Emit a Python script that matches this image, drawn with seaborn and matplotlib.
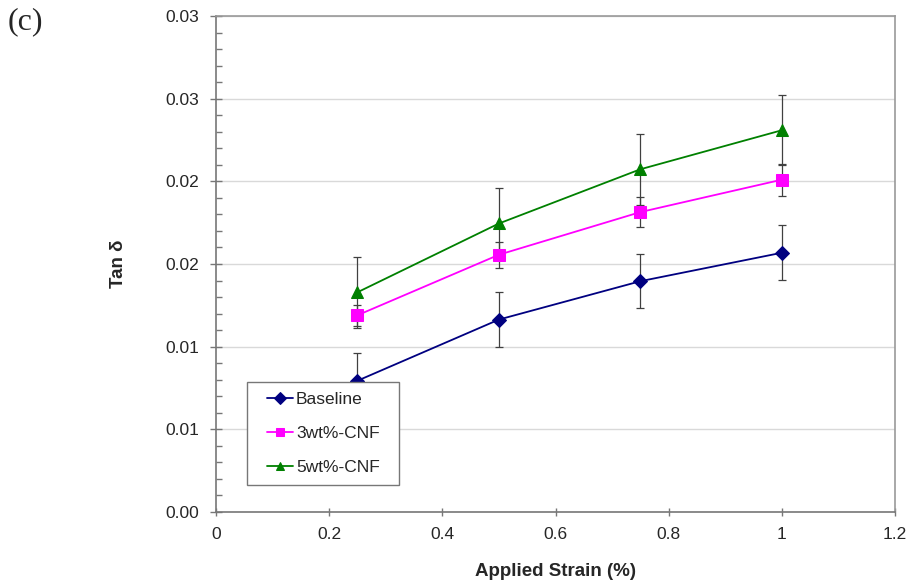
import matplotlib
matplotlib.use("Agg")
import matplotlib.pyplot as plt
import seaborn as sns
import pandas as pd
from matplotlib.ticker import MultipleLocator

strain = [0.25, 0.5, 0.75, 1.0]
baseline = [0.00794, 0.01164, 0.01396, 0.01568]
baseline_err = [0.0017, 0.00168, 0.00165, 0.00165]
cnf3 = [0.01190, 0.01556, 0.01814, 0.02010]
cnf3_err = [0.00064, 0.00079, 0.00091, 0.00097]
cnf5 = [0.01329, 0.01745, 0.02073, 0.02309]
cnf5_err = [0.00216, 0.00216, 0.00214, 0.00212]

series_names = ["Baseline", "3wt%-CNF", "5wt%-CNF"]
series_vals = [baseline, cnf3, cnf5]
series_errs = [baseline_err, cnf3_err, cnf5_err]
colors = {"Baseline": "#000080", "3wt%-CNF": "#FF00FF", "5wt%-CNF": "#008000"}
markers = {"Baseline": "D", "3wt%-CNF": "s", "5wt%-CNF": "^"}
msizes = {"Baseline": 7, "3wt%-CNF": 8, "5wt%-CNF": 9}

yticks = [0.0, 0.005, 0.010, 0.015, 0.020, 0.025, 0.030]
ytick_labels = ["0.00", "0.01", "0.01", "0.02", "0.02", "0.03", "0.03"]
xticks = [0, 0.2, 0.4, 0.6, 0.8, 1.0, 1.2]
xtick_labels = ["0", "0.2", "0.4", "0.6", "0.8", "1", "1.2"]

rows = []
for name, vals in zip(series_names, series_vals):
    for x, v in zip(strain, vals):
        rows.append({"strain": x, "tan": v, "series": name})
df = pd.DataFrame(rows)

sns.set_style("white")
plt.rcParams["font.family"] = ["Liberation Sans", "DejaVu Sans"]

fig = plt.figure(figsize=(9.08, 5.86), dpi=100)
ax = fig.add_axes([216/908, 74/586, (895-216)/908, (512-16)/586])

for name, vals, errs in zip(series_names, series_vals, series_errs):
    ax.errorbar(strain, vals, yerr=errs, fmt="none", ecolor="#404040",
                elinewidth=0.9, capsize=3, capthick=0.9, zorder=2)

for name in series_names:
    sub = df[df["series"] == name]
    sns.lineplot(data=sub, x="strain", y="tan", ax=ax, color=colors[name],
                 marker=markers[name], markersize=msizes[name],
                 markeredgecolor=colors[name], linewidth=1.3, label=name,
                 zorder=3)

ax.set_xlim(0, 1.2)
ax.set_ylim(0, 0.030)
ax.set_xticks(xticks)
ax.set_xticklabels(xtick_labels)
ax.set_yticks(yticks)
ax.set_yticklabels(ytick_labels)
ax.yaxis.set_minor_locator(MultipleLocator(0.001))
ax.grid(axis="y", which="major", color="#d9d9d9", linewidth=1.0)
ax.set_axisbelow(True)

for s in ax.spines.values():
    s.set_color("#999999")
    s.set_linewidth(1.2)
ax.spines["left"].set_color("#777777")
ax.spines["bottom"].set_color("#777777")

ax.tick_params(axis="y", which="major", direction="inout", length=8, width=1,
               color="#777777", labelsize=12.5, pad=8, left=True)
ax.tick_params(axis="y", which="minor", direction="in", length=4, width=1,
               color="#777777", left=True)
ax.tick_params(axis="x", which="major", direction="inout", length=6, width=1,
               color="#777777", labelsize=12.5, pad=8, bottom=True)

ax.set_xlabel("Applied Strain (%)", fontsize=13.5, fontweight="bold", labelpad=15)
ax.set_ylabel("Tan δ", fontsize=13.5, fontweight="bold", labelpad=28)

leg = ax.legend(loc="upper left", bbox_to_anchor=((257-216)/679, (512-382)/496),
                frameon=True, fancybox=False, edgecolor="#777777",
                framealpha=1.0, facecolor="white",
                fontsize=12.5, handlelength=1.5, labelspacing=1.1,
                borderpad=0.55, handletextpad=0.2, borderaxespad=0)
frame = leg.get_frame()
frame.set_linewidth(1.0)
frame.set_boxstyle("square", pad=0.55)
frame.set_mutation_aspect(0.001)
leg.set_zorder(5)
for h in leg.get_lines():
    h.set_markersize(6)

fig.text(8/908, 1 - 22/586, "(c)", fontsize=23, family=["Liberation Serif"],
         va="center", ha="left")

fig.savefig("out.png", dpi=100)
